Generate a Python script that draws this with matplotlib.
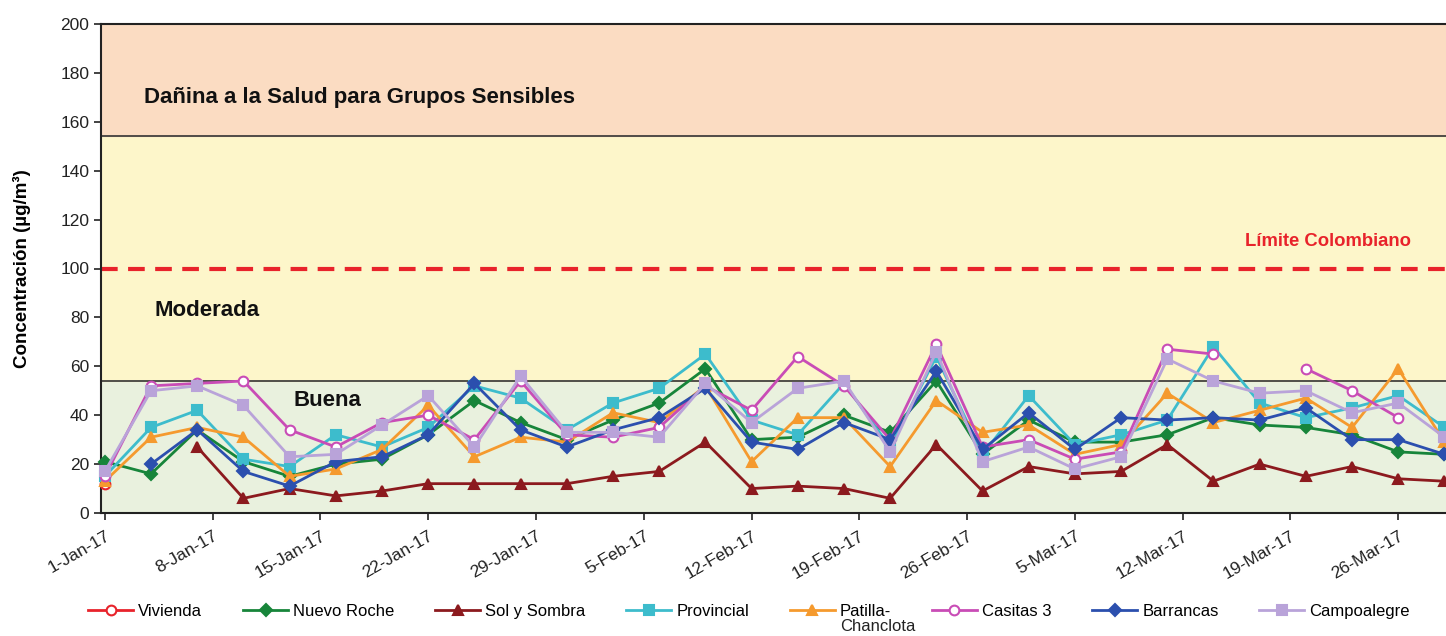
import numpy as np
import pandas as pd
import matplotlib
matplotlib.use("Agg")
import matplotlib.pyplot as plt
import matplotlib.dates as mdates
from matplotlib.ticker import FuncFormatter

plt.rcParams["font.family"] = ["Liberation Sans", "DejaVu Sans"]

nan = np.nan

# sampling every 3 days, 1-Jan-17 .. 29-Mar-17
dates = pd.date_range("2017-01-01", periods=30, freq="3D")

vivienda = [12] + [nan] * 29
nuevo_roche = [21, 16, 34, 21, 15, 20, 22, 32, 46, 37, 30, 38, 45, 59, 30, 31,
               40, 33, 54, 24, 38, 29, 29, 32, 39, 36, 35, 32, 25, 24]
sol_y_sombra = [nan, nan, 27, 6, 10, 7, 9, 12, 12, 12, 12, 15, 17, 29, 10, 11,
                10, 6, 28, 9, 19, 16, 17, 28, 13, 20, 15, 19, 14, 13]
provincial = [15, 35, 42, 22, 19, 32, 27, 35, 52, 47, 34, 45, 51, 65, 38, 32,
              53, 27, 64, 24, 48, 28, 32, 38, 68, 45, 39, 43, 48, 35]
patilla = [13, 31, 35, 31, 15, 18, 26, 44, 23, 31, 29, 41, 37, 52, 21, 39,
           39, 19, 46, 33, 36, 24, 28, 49, 37, 42, 47, 35, 59, 29]
casitas_3 = [15, 52, 53, 54, 34, 27, 37, 40, 30, 54, 32, 31, 35, 52, 42, 64,
             52, 30, 69, 27, 30, 22, 25, 67, 65, nan, 59, 50, 39, nan]
barrancas = [nan, 20, 34, 17, 11, 21, 23, 32, 53, 34, 27, 34, 39, 51, 29, 26,
             37, 30, 58, 26, 41, 26, 39, 38, 39, 38, 43, 30, 30, 24]
campoalegre = [17, 50, 52, 44, 23, 24, 36, 48, 27, 56, 33, 33, 31, 53, 37, 51,
               54, 25, 66, 21, 27, 18, 23, 63, 54, 49, 50, 41, 45, 31]

series = [
    ("Vivienda", vivienda, "#e8232b", "o", "white"),
    ("Nuevo Roche", nuevo_roche, "#17853a", "D", None),
    ("Sol y Sombra", sol_y_sombra, "#8c1a1e", "^", None),
    ("Provincial", provincial, "#3dbccc", "s", None),
    ("Patilla-", patilla, "#f59a2e", "^", None),
    ("Casitas 3", casitas_3, "#c94cb6", "o", "white"),
    ("Barrancas", barrancas, "#2b4fae", "D", None),
    ("Campoalegre", campoalegre, "#b9a3d9", "s", None),
]

fig = plt.figure(figsize=(14.46, 6.36), dpi=100)
ax = fig.add_axes([101 / 1446, 1 - 513 / 636, 1 - 101 / 1446, (513 - 24) / 636])

# air quality bands
ax.axhspan(0, 54, color="#e9f1de", zorder=0)
ax.axhspan(54, 154, color="#fdf6ca", zorder=0)
ax.axhspan(154, 200, color="#fbdcc2", zorder=0)
ax.axhline(54, color="#333333", lw=1.2, zorder=1)
ax.axhline(154, color="#333333", lw=1.2, zorder=1)
ax.axhline(100, color="#e8232b", lw=3, ls=(0, (4, 2.5)), zorder=1)

for name, vals, col, mk, fc in series:
    ax.plot(dates, vals, color=col, lw=2, marker=mk,
            markersize=7 if mk != "D" else 6,
            markerfacecolor=fc if fc else col, markeredgecolor=col,
            markeredgewidth=1.5, label=name, zorder=3, clip_on=False)

ytr = ax.get_yaxis_transform()
ax.text(0.032, 170, "Dañina a la Salud para Grupos Sensibles", transform=ytr,
        fontsize=16, fontweight="bold", va="center", color="#111111")
ax.text(0.04, 83, "Moderada", transform=ytr,
        fontsize=16, fontweight="bold", va="center", color="#111111")
ax.text(0.143, 46, "Buena", transform=ytr,
        fontsize=16, fontweight="bold", va="center", color="#111111")
ax.text(0.912, 111, "Límite Colombiano", transform=ytr,
        fontsize=13.3, fontweight="bold", va="center", ha="center", color="#e8232b")

start = pd.Timestamp("2017-01-01")
ax.set_xlim(start - pd.Timedelta(hours=6), start + pd.Timedelta(days=87.1))
ax.set_ylim(0, 200)
ax.set_yticks(np.arange(0, 201, 20))
ticks = pd.date_range("2017-01-01", "2017-03-26", freq="7D")
ax.set_xticks(ticks)


def date_label(v, pos):
    d = mdates.num2date(v)
    return f"{d.day}-{d.strftime('%b-%y')}"


ax.xaxis.set_major_formatter(FuncFormatter(date_label))
plt.setp(ax.get_xticklabels(), rotation=30, ha="right", rotation_mode="anchor")
ax.tick_params(axis="both", direction="out", length=5, width=1.2, labelsize=12.5, colors="#222222")
ax.tick_params(axis="x", pad=6)

for s in ["left", "bottom", "top"]:
    ax.spines[s].set_linewidth(1.5)
    ax.spines[s].set_color("#222222")
ax.spines["right"].set_visible(False)

ax.set_ylabel("Concentración (µg/m³)", fontsize=13.5, fontweight="bold", labelpad=21)

leg = fig.legend(loc="upper center", bbox_to_anchor=(0.518, 0.074), ncol=8, frameon=False,
                 fontsize=12, handlelength=2.7, columnspacing=2.45, handletextpad=0.3)

# second line of the "Patilla-Chanclota" legend label
fig.canvas.draw()
txt = [t for t in leg.get_texts() if t.get_text() == "Patilla-"][0]
bb = txt.get_window_extent()
fig.text(bb.x0 / fig.bbox.width, 2 / fig.bbox.height, "Chanclota",
         fontsize=12, color="#222222", va="bottom", ha="left")

fig.savefig("out.png", dpi=100)
